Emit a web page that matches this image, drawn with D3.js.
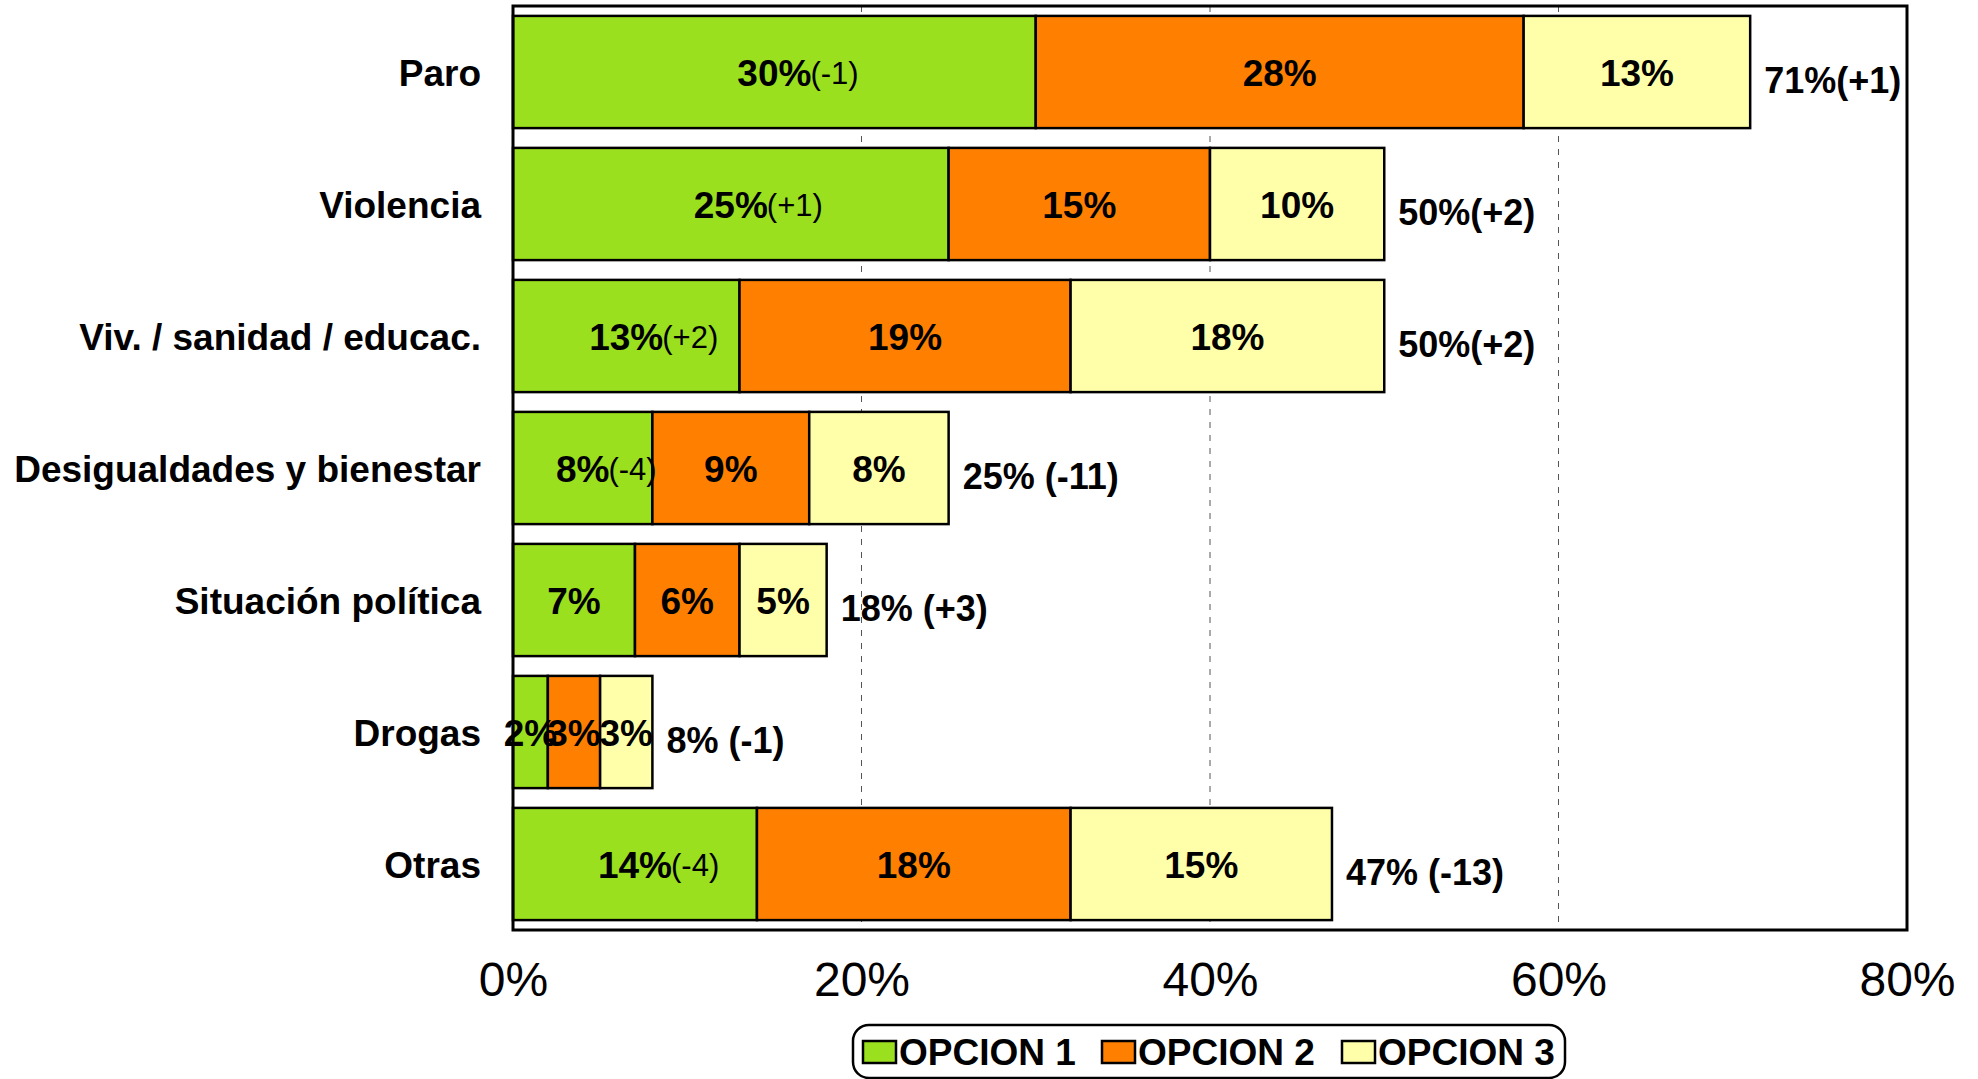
<!DOCTYPE html>
<html>
<head>
<meta charset="utf-8">
<script src="https://cdn.jsdelivr.net/npm/d3@7/dist/d3.min.js"></script>
<style>
  html, body { margin: 0; padding: 0; background: #fff; }
  svg { display: block; font-family: "Liberation Sans", Arial, sans-serif; }
</style>
</head>
<body>
<svg id="chart" width="1978" height="1079"></svg>
<script>
const categories = ["Paro", "Violencia", "Viv. / sanidad / educac.", "Desigualdades y bienestar", "Situación política", "Drogas", "Otras"];
const seriesNames = ["OPCION 1", "OPCION 2", "OPCION 3"];
const opcion1 = [30, 25, 13, 8, 7, 2, 14];
const opcion2 = [28, 15, 19, 9, 6, 3, 18];
const opcion3 = [13, 10, 18, 8, 5, 3, 15];
const opcion1Change = ["(-1)", "(+1)", "(+2)", "(-4)", "", "", "(-4)"];
const totalLabels = ["71%(+1)", "50%(+2)", "50%(+2)", "25% (-11)", "18% (+3)", "8% (-1)", "47% (-13)"];
const xTicks = [0, 20, 40, 60, 80];
const gridTicks = [20, 40, 60];
const colors = ["#9be01e", "#ff8000", "#ffffaa"];

const svg = d3.select("#chart");
const plot = { left: 513, right: 1907, top: 6, bottom: 930 };

const x = d3.scaleLinear().domain([0, 80]).range([plot.left, plot.right]);
const y = d3.scaleBand().domain(categories).range([plot.top, plot.bottom])
  .paddingInner(0.15).paddingOuter(0.075);

const seriesValues = [opcion1, opcion2, opcion3];
const table = categories.map((c, i) => {
  const row = { cat: c };
  seriesNames.forEach((s, j) => row[s] = seriesValues[j][i]);
  return row;
});
const stacked = d3.stack().keys(seriesNames)(table);

// gridlines
svg.append("g").selectAll("line").data(gridTicks).join("line")
  .attr("x1", d => x(d)).attr("x2", d => x(d))
  .attr("y1", plot.top).attr("y2", plot.bottom)
  .attr("stroke", "#555").attr("stroke-width", 1)
  .attr("stroke-dasharray", "6,7");

// bars
const layers = svg.append("g").selectAll("g").data(stacked).join("g")
  .attr("fill", (d, i) => colors[i]);
layers.selectAll("rect").data(d => d).join("rect")
  .attr("x", d => x(d[0]))
  .attr("y", d => y(d.data.cat))
  .attr("width", d => x(d[1]) - x(d[0]))
  .attr("height", y.bandwidth())
  .attr("stroke", "#000").attr("stroke-width", 2.5);

// inner labels
stacked.forEach((layer, j) => {
  layer.forEach((d, i) => {
    const cx = (x(d[0]) + x(d[1])) / 2;
    const cy = y(d.data.cat) + y.bandwidth() / 2 + 1;
    const t = svg.append("text")
      .attr("x", cx).attr("y", cy)
      .attr("text-anchor", "middle")
      .attr("dominant-baseline", "central")
      .attr("font-size", 37).attr("font-weight", "bold")
      .attr("fill", "#000")
      .text(seriesValues[j][i] + "%");
    if (j === 0 && opcion1Change[i]) {
      const w = t.node().getComputedTextLength();
      svg.append("text")
        .attr("x", cx + w / 2 - 1).attr("y", cy)
        .attr("dominant-baseline", "central")
        .attr("font-size", 31)
        .attr("fill", "#000")
        .text(opcion1Change[i]);
    }
  });
});

// total labels
const last = stacked[stacked.length - 1];
svg.append("g").selectAll("text").data(last).join("text")
  .attr("x", d => x(d[1]) + 14)
  .attr("y", d => y(d.data.cat) + y.bandwidth() / 2 + 8)
  .attr("dominant-baseline", "central")
  .attr("font-size", 36).attr("font-weight", "bold")
  .text((d, i) => totalLabels[i]);

// category labels
svg.append("g").selectAll("text").data(categories).join("text")
  .attr("x", 481)
  .attr("y", d => y(d) + y.bandwidth() / 2 + 1)
  .attr("text-anchor", "end")
  .attr("dominant-baseline", "central")
  .attr("font-size", 37).attr("font-weight", "bold")
  .text(d => d);

// frame
svg.append("rect")
  .attr("x", plot.left).attr("y", plot.top)
  .attr("width", plot.right - plot.left).attr("height", plot.bottom - plot.top)
  .attr("fill", "none").attr("stroke", "#000").attr("stroke-width", 3);

// x axis
const xAxis = svg.append("g")
  .attr("transform", `translate(0,${plot.bottom})`)
  .call(d3.axisBottom(x).tickValues(xTicks).tickSize(0).tickPadding(32).tickFormat(d => d + "%"));
xAxis.select(".domain").remove();
xAxis.selectAll("text")
  .attr("font-size", 48)
  .attr("font-family", "'Liberation Sans', Arial, sans-serif")
  .attr("fill", "#000");

// legend
const lg = svg.append("g");
lg.append("rect")
  .attr("x", 853).attr("y", 1025).attr("width", 712).attr("height", 53)
  .attr("rx", 16).attr("ry", 16)
  .attr("fill", "#fff").attr("stroke", "#000").attr("stroke-width", 2.5);
const lgX = [863, 1102, 1342];
seriesNames.forEach((s, j) => {
  lg.append("rect")
    .attr("x", lgX[j]).attr("y", 1041).attr("width", 33).attr("height", 22)
    .attr("fill", colors[j]).attr("stroke", "#000").attr("stroke-width", 2.5);
  lg.append("text")
    .attr("x", lgX[j] + 36).attr("y", 1065)
    .attr("font-size", 37).attr("font-weight", "bold")
    .text(s);
});
</script>
</body>
</html>
